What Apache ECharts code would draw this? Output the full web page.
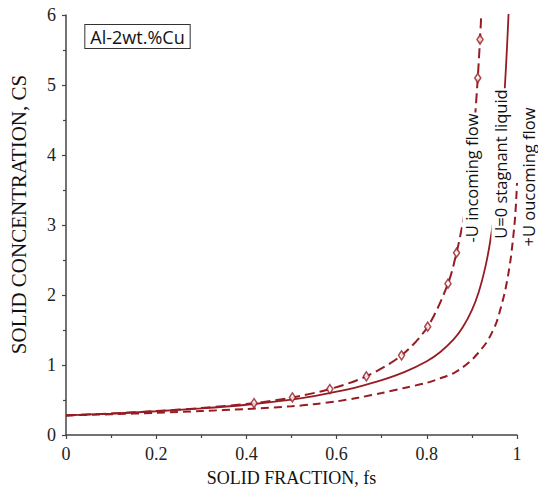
<!DOCTYPE html>
<html>
<head>
<meta charset="utf-8">
<script src="https://cdn.jsdelivr.net/npm/echarts@6/dist/echarts.min.js"></script>
<style>
  html, body { margin: 0; padding: 0; background: #fff; }
  #chart { width: 538px; height: 492px; }
</style>
</head>
<body>
<div id="chart"></div>
<script>
// Solid concentration Cs against solid fraction fs, Al-2wt.%Cu
const alloyLabel = 'Al-2wt.%Cu';
const xTitle = 'SOLID FRACTION, fs';
const yTitle = 'SOLID CONCENTRATION, CS';
const xTicks = ['0', '0.2', '0.4', '0.6', '0.8', '1'];

// -U incoming flow (dash line with diamond markers)
const incomingFlow = [
  [0, 0.28], [0.1, 0.308], [0.2, 0.342], [0.3, 0.386], [0.417, 0.455],
  [0.502, 0.537], [0.585, 0.656], [0.666, 0.838], [0.744, 1.138],
  [0.802, 1.547], [0.847, 2.162], [0.866, 2.604], [0.88, 3.04],
  [0.89, 3.47], [0.9, 4.04], [0.907, 4.55], [0.913, 5.1],
  [0.918, 5.65], [0.922, 6.18]
];
const incomingMarkers = [
  [0.417, 0.455], [0.502, 0.537], [0.585, 0.656], [0.666, 0.838],
  [0.744, 1.138], [0.802, 1.547], [0.847, 2.162], [0.866, 2.604],
  [0.913, 5.1], [0.918, 5.65]
];

// U=0 stagnant liquid (solid line)
const stagnant = [
  [0, 0.28], [0.1, 0.306], [0.2, 0.339], [0.3, 0.379], [0.4, 0.432],
  [0.5, 0.505], [0.55, 0.555], [0.6, 0.618], [0.65, 0.692], [0.7, 0.783],
  [0.75, 0.898], [0.8, 1.054], [0.83, 1.186], [0.86, 1.369], [0.88, 1.542],
  [0.9, 1.785], [0.915, 2.04], [0.93, 2.406], [0.94, 2.743], [0.95, 3.187],
  [0.96, 3.79], [0.967, 4.35], [0.973, 4.96], [0.978, 5.56], [0.982, 6.12]
];

// +U outcoming flow (dashed line)
const outcomingFlow = [
  [0, 0.28], [0.1, 0.296], [0.2, 0.316], [0.3, 0.342], [0.4, 0.372],
  [0.5, 0.41], [0.55, 0.44], [0.6, 0.48], [0.65, 0.535], [0.7, 0.6],
  [0.75, 0.672], [0.8, 0.745], [0.83, 0.81], [0.86, 0.885], [0.875, 0.945],
  [0.9, 1.075], [0.915, 1.18], [0.93, 1.3], [0.937, 1.37], [0.945, 1.47],
  [0.954, 1.6], [0.96, 1.72], [0.965, 1.84], [0.97, 1.96], [0.974, 2.07],
  [0.978, 2.2], [0.981, 2.31], [0.985, 2.47], [0.988, 2.62], [0.991, 2.79],
  [0.994, 2.98], [0.996, 3.13], [0.998, 3.33], [1.0, 3.6]
];

const curveLabels = ['-U incoming flow', 'U=0 stagnant liquid', '+U oucoming flow'];

const red = '#961c23';
const axisColor = '#444';
const serif = 'Liberation Serif';
const sans = 'Open Sans';

const chart = echarts.init(document.getElementById('chart'), null, { renderer: 'svg' });

function rotatedLabel(text, x, y) {
  return {
    type: 'text', x: x, y: y, rotation: Math.PI / 2, z: 100,
    style: {
      text: text, fontFamily: sans, fontSize: 16.5, fill: '#111',
      align: 'center', verticalAlign: 'middle',
      textAlign: 'center', textVerticalAlign: 'middle',
      backgroundColor: '#fff', padding: [0, 1]
    }
  };
}

// serif tick labels via rich text
const tickRich = { t: { fontFamily: serif, fontSize: 18, color: '#222' } };

chart.setOption({
  animation: false,
  backgroundColor: '#fff',
  textStyle: { fontFamily: serif },
  grid: { left: 64, right: 21, top: 15, bottom: 56, containLabel: false },
  xAxis: {
    type: 'value', min: 0, max: 1, interval: 0.2,
    name: xTitle, nameLocation: 'middle', nameGap: 34,
    nameTextStyle: { fontFamily: serif, fontSize: 18, color: '#111' },
    axisLine: { show: true, onZero: false, lineStyle: { color: axisColor, width: 1.5 } },
    axisTick: { show: true, inside: false, length: 4, lineStyle: { color: axisColor, width: 1.2 } },
    minorTick: { show: true, splitNumber: 2, length: 3, lineStyle: { color: axisColor, width: 1.2 } },
    splitLine: { show: false },
    axisLabel: {
      fontFamily: serif, fontSize: 18, color: '#222', margin: 10,
      formatter: v => '{t|' + xTicks[Math.round(v * 5)] + '}',
      rich: tickRich
    }
  },
  yAxis: {
    type: 'value', min: 0, max: 6, interval: 1,
    name: yTitle, nameLocation: 'middle', nameGap: 37, nameRotate: 90,
    nameTextStyle: { fontFamily: serif, fontSize: 21, color: '#111', padding: [0, 0, 0, 21] },
    axisLine: { show: true, onZero: false, lineStyle: { color: axisColor, width: 1.5 } },
    axisTick: { show: true, inside: false, length: 4, lineStyle: { color: axisColor, width: 1.2 } },
    minorTick: { show: true, splitNumber: 2, length: 3, lineStyle: { color: axisColor, width: 1.2 } },
    splitLine: { show: false },
    axisLabel: {
      fontFamily: serif, fontSize: 18, color: '#222', margin: 10,
      formatter: v => '{t|' + v + '}',
      rich: tickRich
    }
  },
  series: [
    {
      name: curveLabels[2], type: 'line', data: outcomingFlow,
      showSymbol: false, smooth: 0.3,
      lineStyle: { color: red, width: 2, type: [8, 5] }
    },
    {
      name: curveLabels[1], type: 'line', data: stagnant,
      showSymbol: false, smooth: 0.3,
      lineStyle: { color: red, width: 1.8 }
    },
    {
      name: curveLabels[0], type: 'line', data: incomingFlow,
      showSymbol: false, smooth: 0.3,
      lineStyle: { color: red, width: 2, type: [10, 5] }
    },
    {
      name: curveLabels[0] + ' markers', type: 'scatter', data: incomingMarkers,
      symbol: 'diamond', symbolSize: [6, 9],
      itemStyle: { color: '#fff', borderColor: red, borderWidth: 1.6 },
      z: 5
    }
  ],
  graphic: [
    {
      type: 'text', x: 137.5, y: 36.5, z: 100,
      style: {
        text: alloyLabel, fontFamily: sans, fontSize: 18, fill: '#111',
        align: 'center', verticalAlign: 'middle',
        textAlign: 'center', textVerticalAlign: 'middle',
        backgroundColor: '#fff', borderColor: '#333', borderWidth: 1,
        padding: [3, 5, 2, 5]
      }
    },
    rotatedLabel(curveLabels[0], 471, 178),
    rotatedLabel(curveLabels[1], 500, 164),
    rotatedLabel(curveLabels[2], 528, 177)
  ]
});
</script>
</body>
</html>
